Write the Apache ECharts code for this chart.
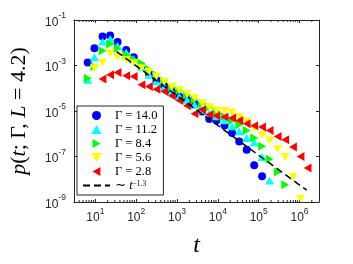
<!DOCTYPE html>
<html><head><meta charset="utf-8">
<script src="https://cdn.jsdelivr.net/npm/echarts@6/dist/echarts.min.js"></script>
<style>html,body{margin:0;padding:0;background:#fff}#c{width:353px;height:264px}</style>
</head><body><div id="c"></div>
<script>
// time bins (shared by all series)
const tValues = [6.5, 9.5, 15, 23, 35, 57, 87, 135, 205, 313, 487, 743, 1135, 1760, 2690, 4110, 6150, 9230, 14600, 22300, 33400, 50900, 77800, 121000, 185000, 292000, 446000, 692000, 1060000, 1580000];
const gammaLabels = ['Γ = 14.0', 'Γ = 11.2', 'Γ = 8.4', 'Γ = 5.6', 'Γ = 2.8'];
const startIndex = [0, 0, 0, 1, 2];
const p14 = [1.35e-3, 5.7e-3, 1.86e-2, 2.06e-2, 1.08e-2, 4.8e-3, 2.3e-3, 9.0e-4, 4.3e-4, 2.33e-4, 1.27e-4, 7.2e-5, 4.3e-5, 3.1e-5, 2.07e-5, 9.5e-6, 4.4e-6, 3.85e-6, 2.3e-6, 1.07e-6, 4.6e-7, 2.0e-7, 4.1e-8, 1.35e-8];
const p112 = [2.33e-4, 2.3e-3, 1.12e-2, 1.47e-2, 7.2e-3, 3.7e-3, 1.88e-3, 8.4e-4, 3.9e-4, 1.97e-4, 1.11e-4, 7.2e-5, 4.3e-5, 3.1e-5, 1.87e-5, 1.13e-5, 8.1e-6, 5.75e-6, 3.85e-6, 2.1e-6, 1.26e-6, 6.5e-7, 4.2e-7, 9.5e-8, 8.7e-9];
const p84 = [2.77e-4, 9.0e-4, 4.5e-3, 8.9e-3, 5.7e-3, 2.9e-3, 1.88e-3, 1.26e-3, 6.9e-4, 3.9e-4, 2.1e-4, 1.11e-4, 8.0e-5, 5.1e-5, 3.1e-5, 2.07e-5, 1.48e-5, 9.5e-6, 5.75e-6, 3.85e-6, 2.5e-6, 1.4e-6, 6.5e-7, 2.8e-7, 7.7e-8, 2.1e-8, 5.8e-9];
const p56 = [7.6e-4, 1.35e-3, 3.45e-3, 2.3e-3, 1.76e-3, 1.26e-3, 7.6e-4, 5.4e-4, 3.3e-4, 1.97e-4, 1.19e-4, 8.5e-5, 5.7e-5, 3.7e-5, 2.2e-5, 1.48e-5, 1.05e-5, 1.02e-5, 8.6e-6, 5.4e-6, 3.5e-6, 1.77e-6, 9.0e-7, 5.1e-7, 2.1e-7, 9.5e-8, 1.26e-8, 1.4e-9];
const p28 = [2.58e-4, 3.9e-4, 4.9e-4, 3.5e-4, 3.3e-4, 1.41e-4, 1.19e-4, 9.1e-5, 7.2e-5, 4.65e-5, 2.9e-5, 1.69e-5, 7.5e-6, 1.13e-5, 6.8e-6, 6.15e-6, 5.4e-6, 4.9e-6, 3.85e-6, 2.75e-6, 2.25e-6, 1.96e-6, 1.4e-6, 7.6e-7, 5.5e-7, 2.6e-7, 1.01e-7, 3.1e-8];
const fitT = [33, 1.5e6];
const fitP = [4.1e-3, 3.3e-9];
const fitName = '~ t^-1.3';

const allP = [p14, p112, p84, p56, p28];
const colors = ['#0000ff', '#00ffff', '#00ff00', '#ffff00', '#ff0000'];
const symbols = ['circle', 'path://M5,0L10,8.66L0,8.66Z', 'path://M0,0L8.66,5L0,10Z', 'path://M0,0L10,0L5,8.66Z', 'path://M8.66,0L0,5L8.66,10Z'];
const sizes = [8, 9, 9, 9, 9];

const minorT = [];
for (let k = 0; k <= 6; k++) for (let m = 2; m <= 9; m++) { const v = m * Math.pow(10, k); if (v > 3 && v < 3e6) minorT.push([v, 1e-5]); }

const axisColor = '#262626';
const supRich = {
  b: { fontFamily: 'Liberation Sans', fontSize: 12, color: axisColor, lineHeight: 17, verticalAlign: 'bottom' },
  s: { fontFamily: 'Liberation Sans', fontSize: 8.5, color: axisColor, lineHeight: 17, verticalAlign: 'top' }
};
const logFmt = v => '{b|10}{s|' + Math.round(Math.log10(v)) + '}';

const series = allP.map((arr, i) => ({
  name: gammaLabels[i], type: 'scatter',
  data: arr.map((p, j) => [tValues[startIndex[i] + j], p]),
  symbol: symbols[i], symbolSize: sizes[i], symbolKeepAspect: true,
  itemStyle: { color: colors[i], opacity: 1 }, z: 2 + i
}));
series.push({
  name: fitName, type: 'line', data: fitT.map((t, i) => [t, fitP[i]]),
  symbol: 'none', showSymbol: false, lineStyle: { color: '#000', width: 1.5, type: [7, 4] }, itemStyle: { color: '#000' }, z: 10
});
series.push({
  type: 'custom', silent: true, data: minorT, z: 1,
  renderItem: (params, api) => {
    const t = api.value(0);
    const b = api.coord([t, 1e-9]);
    const tp = api.coord([t, 1e-1]);
    return { type: 'group', children: [
      { type: 'line', shape: { x1: b[0], y1: b[1], x2: b[0], y2: b[1] - 2 }, style: { stroke: axisColor, lineWidth: 1 } },
      { type: 'line', shape: { x1: tp[0], y1: tp[1], x2: tp[0], y2: tp[1] + 2 }, style: { stroke: axisColor, lineWidth: 1 } }
    ] };
  }
});

const baseX = {
  type: 'log', logBase: 10, min: 3, max: 3e6,
  axisLine: { show: true, lineStyle: { color: axisColor, width: 1 } },
  axisTick: { show: true, inside: true, length: 3, lineStyle: { color: axisColor } },
  splitLine: { show: false }
};
const baseY = {
  type: 'log', logBase: 10, min: 1e-9, max: 1e-1, interval: 2,
  axisLine: { show: true, lineStyle: { color: axisColor, width: 1 } },
  axisTick: { show: true, inside: true, length: 3, lineStyle: { color: axisColor } },
  splitLine: { show: false }
};

const chart = echarts.init(document.getElementById('c'), null, { renderer: 'canvas' });
chart.setOption({
  backgroundColor: '#fff',
  animation: false,
  grid: { left: 68, right: 34, top: 20, bottom: 62 },
  xAxis: [
    Object.assign({}, baseX, { position: 'bottom',
      axisLabel: { formatter: logFmt, rich: supRich, margin: 5, showMinLabel: false, showMaxLabel: false },
      name: '{i|t}', nameLocation: 'middle', nameGap: 32,
      nameTextStyle: { rich: { i: { fontFamily: 'Liberation Serif', fontStyle: 'italic', fontSize: 24, color: '#000' } } } }),
    Object.assign({}, baseX, { position: 'top', axisLabel: { show: false } })
  ],
  yAxis: [
    Object.assign({}, baseY, { position: 'left',
      axisLabel: { formatter: logFmt, rich: supRich, margin: 8 },
      name: '{i|p}{n|(}{i|t}{n|; Γ, }{i|L}{n| = 4.2)}', nameLocation: 'middle', nameGap: 44,
      nameTextStyle: { rich: {
        i: { fontFamily: 'Liberation Serif', fontStyle: 'italic', fontSize: 22, color: '#000' },
        n: { fontFamily: 'Liberation Serif', fontSize: 22, color: '#000' } } } }),
    Object.assign({}, baseY, { position: 'right', axisLabel: { show: false } })
  ],
  legend: {
    data: gammaLabels.map(n => ({ name: n })).concat([{ name: fitName, itemStyle: { opacity: 0 } }]),
    orient: 'vertical', left: 77, top: 106,
    itemWidth: 27, itemHeight: 9, itemGap: 1, padding: [3, 6, 3, 5],
    borderColor: axisColor, borderWidth: 1, backgroundColor: '#fff', symbolKeepAspect: true,
    textStyle: { fontFamily: 'Liberation Serif', fontSize: 12.5, color: '#000', lineHeight: 10,
      rich: {
        n: { fontFamily: 'Liberation Serif', fontSize: 12.5, color: '#000', lineHeight: 10 },
        i: { fontFamily: 'Liberation Serif', fontStyle: 'italic', fontSize: 12.5, color: '#000', lineHeight: 10 },
        s: { fontFamily: 'Liberation Serif', fontSize: 7.5, color: '#000', lineHeight: 10, verticalAlign: 'top' }
      } },
    formatter: name => name === fitName ? '{n|∼ }{i|t}{s|−1.3}' : '{n|' + name + '}'
  },
  series: series
});
</script></body></html>
